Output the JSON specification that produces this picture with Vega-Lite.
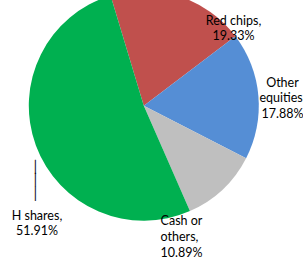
{
  "$schema": "https://vega.github.io/schema/vega-lite/v6.json",
  "width": 303,
  "height": 264,
  "autosize": {"type": "fit", "contains": "padding"},
  "padding": {"left": 0, "top": 0, "right": 16.4, "bottom": 22.6},
  "background": "white",
  "view": {"stroke": null},
  "data": {
    "values": [
      {"cat": "Red chips", "value": 19.33, "ord": 1, "label": "Red chips,\n19.33%"},
      {"cat": "Other equities", "value": 17.88, "ord": 2, "label": "Other\nequities,\n17.88%"},
      {"cat": "Cash or others", "value": 10.89, "ord": 3, "label": "Cash or\nothers,\n10.89%"},
      {"cat": "H shares", "value": 51.91, "ord": 4, "label": "H shares,\n51.91%"}
    ]
  },
  "encoding": {
    "theta": {"field": "value", "type": "quantitative", "stack": true, "scale": {"range": [-0.293, 5.9902]}},
    "order": {"field": "ord", "type": "quantitative"}
  },
  "layer": [
    {
      "mark": {"type": "arc", "outerRadius": 115},
      "encoding": {
        "color": {
          "field": "cat", "type": "nominal", "legend": null,
          "scale": {"domain": ["Red chips", "Other equities", "Cash or others", "H shares"],
                    "range": ["#C0504D", "#558ED5", "#BFBFBF", "#00B050"]}
        }
      }
    },
    {
      "mark": {"type": "text", "radius": 115, "dx": 54.2, "dy": 24.5, "align": "center", "baseline": "middle", "lineBreak": "\n", "font": "Lato", "fontSize": 12.5, "lineHeight": 15, "fill": "#000000"},
      "encoding": {"detail": {"field": "cat"}, "text": {"condition": {"test": "datum.cat === 'Red chips'", "field": "label"}, "value": ""}}
    },
    {
      "mark": {"type": "text", "radius": 115, "dx": 24.1, "dy": -13.1, "align": "center", "baseline": "middle", "lineBreak": "\n", "font": "Lato", "fontSize": 12.5, "lineHeight": 15.8, "fill": "#000000"},
      "encoding": {"detail": {"field": "cat"}, "text": {"condition": {"test": "datum.cat === 'Other equities'", "field": "label"}, "value": ""}}
    },
    {
      "mark": {"type": "text", "radius": 115, "dx": -62, "dy": 31.3, "align": "left", "baseline": "middle", "lineBreak": "\n", "font": "Lato", "fontSize": 12.5, "lineHeight": 16.3, "fill": "#000000"},
      "encoding": {"detail": {"field": "cat"}, "text": {"condition": {"test": "datum.cat === 'Cash or others'", "field": "label"}, "value": ""}}
    },
    {
      "mark": {"type": "text", "radius": 115, "dx": 1.1, "dy": 71, "align": "center", "baseline": "middle", "lineBreak": "\n", "font": "Lato", "fontSize": 12.5, "lineHeight": 15, "fill": "#000000"},
      "encoding": {"detail": {"field": "cat"}, "text": {"condition": {"test": "datum.cat === 'H shares'", "field": "label"}, "value": ""}}
    },
    {
      "mark": {"type": "text", "radius": 115, "dx": -0.4, "dy": 16.5, "align": "center", "baseline": "top", "lineBreak": "\n", "font": "DejaVu Sans", "fontSize": 12, "lineHeight": 13.5, "fill": "#000000", "opacity": 0.99},
      "encoding": {"detail": {"field": "cat"}, "text": {"condition": {"test": "datum.cat === 'H shares'", "value": "│\n│\n│"}, "value": ""}}
    }
  ]
}
